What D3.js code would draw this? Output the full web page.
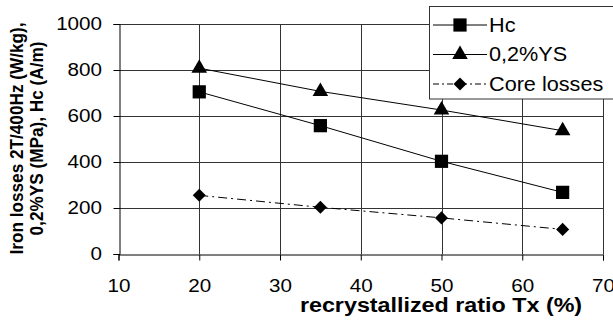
<!DOCTYPE html>
<html lang="en">
<head>
    <meta charset="UTF-8">
    <title>Recrystallized ratio chart</title>
    <script src="https://d3js.org/d3.v7.min.js"></script>
    <style>
        body { margin: 0; background: #fff; }
        text { font-family: "Liberation Sans", Arial, sans-serif; fill: #000; }
        .tick text { font-size: 18.6px; }
        .axis-title { font-weight: bold; }
        .legend text { font-size: 19.5px; }
    </style>
</head>
<body>

<svg id="chart" width="613" height="325"></svg>

<script>
    const ratios = [20, 35, 50, 65];
    const hc = [705, 558, 403, 268];
    const ys = [808, 707, 626, 536];
    const coreLosses = [255, 203, 157, 107];
    const xTicks = [10, 20, 30, 40, 50, 60, 70];
    const yTicks = [0, 200, 400, 600, 800, 1000];

    const stretch = 1.11; // the text in the picture is a bit wider than Arial

    const diamond = {
        draw(ctx, size) {
            const r = Math.sqrt(size / 2);
            ctx.moveTo(0, -r); ctx.lineTo(r, 0); ctx.lineTo(0, r); ctx.lineTo(-r, 0); ctx.closePath();
        }
    };

    const series = [
        { name: 'Hc', values: hc, symbol: d3.symbolSquare, size: 175, dash: null, legendDash: null },
        { name: '0,2%YS', values: ys, symbol: d3.symbolTriangle, size: 105, dash: null, legendDash: null },
        { name: 'Core losses', values: coreLosses, symbol: diamond, size: 85, dash: '9,4,2,4', legendDash: '6,3,2,3' }
    ];

    const svg = d3.select('#chart');
    const x = d3.scaleLinear().domain([10, 70]).range([118.5, 603]);
    const y = d3.scaleLinear().domain([0, 1000]).range([254, 24]);

    // gridlines
    svg.append('g')
        .selectAll('line')
        .data(yTicks.slice(1))
        .join('line')
        .attr('x1', x(10)).attr('x2', x(70))
        .attr('y1', d => Math.round(y(d)) + 0.5).attr('y2', d => Math.round(y(d)) + 0.5)
        .attr('stroke', '#333');
    svg.append('g')
        .selectAll('line')
        .data(xTicks.slice(1))
        .join('line')
        .attr('x1', d => Math.round(x(d)) + 0.5).attr('x2', d => Math.round(x(d)) + 0.5)
        .attr('y1', y(0)).attr('y2', y(1000))
        .attr('stroke', '#333');

    // axes
    const xAxis = svg.append('g')
        .attr('transform', `translate(0,${Math.round(y(0)) + 0.5})`)
        .call(d3.axisBottom(x).tickValues(xTicks).tickFormat(d3.format('d')).tickSize(6).tickPadding(18.5));
    const yAxis = svg.append('g')
        .attr('transform', `translate(${Math.round(x(10)) + 0.5},0)`)
        .call(d3.axisLeft(y).tickValues(yTicks).tickFormat(d3.format('d')).tickSize(6).tickPadding(10));
    [xAxis, yAxis].forEach(a => {
        a.select('.domain').attr('stroke', '#000');
        a.selectAll('.tick line').attr('stroke', '#000');
        a.attr('font-family', null).attr('font-size', null);
    });
    xAxis.selectAll('.tick text').attr('transform', `scale(${stretch},1)`);
    yAxis.selectAll('.tick text')
        .attr('x', -17.5 / stretch)
        .attr('transform', `scale(${stretch},1)`);

    const line = d3.line()
        .x((d, i) => x(ratios[i]))
        .y(d => y(d));

    // series lines and markers
    series.forEach(s => {
        svg.append('path')
            .attr('d', line(s.values))
            .attr('fill', 'none')
            .attr('stroke', '#000')
            .attr('stroke-width', 1)
            .attr('stroke-dasharray', s.dash);
        svg.append('g')
            .selectAll('path')
            .data(s.values)
            .join('path')
            .attr('transform', (d, i) => `translate(${x(ratios[i])},${y(d)})`)
            .attr('d', d3.symbol().type(s.symbol).size(s.size))
            .attr('fill', '#000');
    });

    // axis titles
    svg.append('text')
        .attr('class', 'axis-title')
        .attr('transform', `translate(441,312) scale(${stretch},1)`)
        .attr('text-anchor', 'middle')
        .attr('font-size', 21)
        .text('recrystallized ratio Tx (%)');

    const yTitle = svg.append('text')
        .attr('class', 'axis-title')
        .attr('transform', `translate(23,138.5) rotate(-90) scale(1,${stretch})`)
        .attr('text-anchor', 'middle')
        .attr('font-size', 17.2);
    yTitle.append('tspan').attr('x', 0).attr('dy', 0).text('Iron losses 2T/400Hz (W/kg),');
    yTitle.append('tspan').attr('x', 0).attr('dy', 18).text('0,2%YS (MPa), Hc (A/m)');

    // legend (box runs off the right edge, as in the picture)
    const legend = svg.append('g').attr('class', 'legend');
    legend.append('rect')
        .attr('x', 429.5).attr('y', 6.5)
        .attr('width', 200).attr('height', 92.5)
        .attr('fill', '#fff')
        .attr('stroke', '#333');
    const item = legend.selectAll('g.item')
        .data(series)
        .join('g')
        .attr('class', 'item')
        .attr('transform', (d, i) => `translate(0,${25 + i * 29.5})`);
    item.append('line')
        .attr('x1', 433).attr('x2', 487)
        .attr('stroke', '#000')
        .attr('stroke-dasharray', d => d.legendDash);
    item.append('path')
        .attr('transform', 'translate(460,0)')
        .attr('d', d => d3.symbol().type(d.symbol).size(d.size)())
        .attr('fill', '#000');
    item.append('text')
        .attr('transform', `translate(489,0) scale(${stretch},1)`)
        .attr('dy', '0.35em')
        .text(d => d.name);
</script>

</body>
</html>
